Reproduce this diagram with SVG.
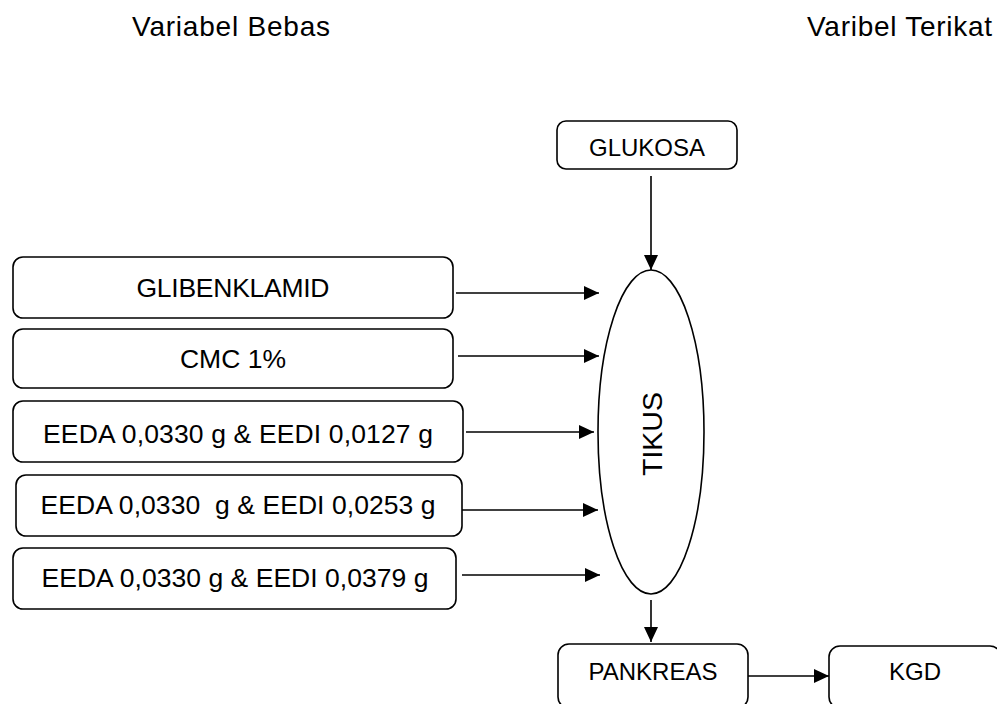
<svg xmlns="http://www.w3.org/2000/svg" width="997" height="704" viewBox="0 0 997 704">
<style>
text{font-family:"Liberation Sans",Arial,sans-serif;fill:#000;}
.hd{font-size:28px;}
.bx{font-size:26.5px;text-anchor:middle;white-space:pre;}
.sm{font-size:24px;text-anchor:middle;}
.box{fill:#fff;stroke:#000;stroke-width:1.6;}
.ln{stroke:#000;stroke-width:1.6;fill:none;}
</style>
<defs>
<marker id="ah" markerUnits="userSpaceOnUse" markerWidth="16" markerHeight="16" viewBox="0 0 16 16" refX="15" refY="8" orient="auto">
<path d="M0,1 L15,8 L0,15 Z" fill="#000"/>
</marker>
</defs>
<rect width="997" height="704" fill="#fff"/>
<text class="hd" x="132" y="36" textLength="198" lengthAdjust="spacing">Variabel Bebas</text>
<text class="hd" x="807" y="36" textLength="185" lengthAdjust="spacing">Varibel Terikat</text>
<g id="glibenklamid"><rect class="box" x="13" y="257" width="440" height="61" rx="10"/><text class="bx" x="233" y="297" textLength="193" lengthAdjust="spacing">GLIBENKLAMID</text></g>
<g id="cmc"><rect class="box" x="13" y="329" width="440" height="59" rx="10"/><text class="bx" x="233" y="368">CMC 1%</text></g>
<g id="eedi1"><rect class="box" x="13" y="401" width="450" height="61" rx="10"/><text class="bx" x="238" y="443" textLength="390" lengthAdjust="spacing">EEDA 0,0330 g &amp; EEDI 0,0127 g</text></g>
<g id="eedi2"><rect class="box" x="16" y="475" width="446" height="61" rx="10"/><text class="bx" x="238" y="514" xml:space="preserve" textLength="395" lengthAdjust="spacing">EEDA 0,0330  g &amp; EEDI 0,0253 g</text></g>
<g id="eedi3"><rect class="box" x="13" y="548" width="443" height="61" rx="10"/><text class="bx" x="235" y="587" textLength="387" lengthAdjust="spacing">EEDA 0,0330 g &amp; EEDI 0,0379 g</text></g>
<g id="glukosa"><rect class="box" x="557" y="121" width="180" height="48" rx="9"/><text class="sm" x="647" y="156">GLUKOSA</text></g>
<g id="tikus"><ellipse class="box" cx="651" cy="432" rx="53" ry="162"/><text font-size="28.5" text-anchor="middle" transform="translate(662,434) rotate(-90)">TIKUS</text></g>
<g id="pankreas"><rect class="box" x="558" y="644" width="190" height="64" rx="11"/><text class="sm" x="653" y="680">PANKREAS</text></g>
<g id="kgd"><rect class="box" x="829" y="646" width="172" height="62" rx="11"/><text class="sm" x="915" y="680">KGD</text></g>
<g id="connectors">
<line class="ln" x1="651" y1="176" x2="651" y2="270" marker-end="url(#ah)"/>
<line class="ln" x1="456" y1="293" x2="599" y2="293" marker-end="url(#ah)"/>
<line class="ln" x1="458" y1="356" x2="599" y2="356" marker-end="url(#ah)"/>
<line class="ln" x1="466" y1="432" x2="594" y2="432" marker-end="url(#ah)"/>
<line class="ln" x1="462" y1="510" x2="598" y2="510" marker-end="url(#ah)"/>
<line class="ln" x1="462" y1="575" x2="600" y2="575" marker-end="url(#ah)"/>
<line class="ln" x1="651" y1="600" x2="651" y2="642" marker-end="url(#ah)"/>
<line class="ln" x1="748" y1="676" x2="829" y2="676" marker-end="url(#ah)"/>
</g>
</svg>
